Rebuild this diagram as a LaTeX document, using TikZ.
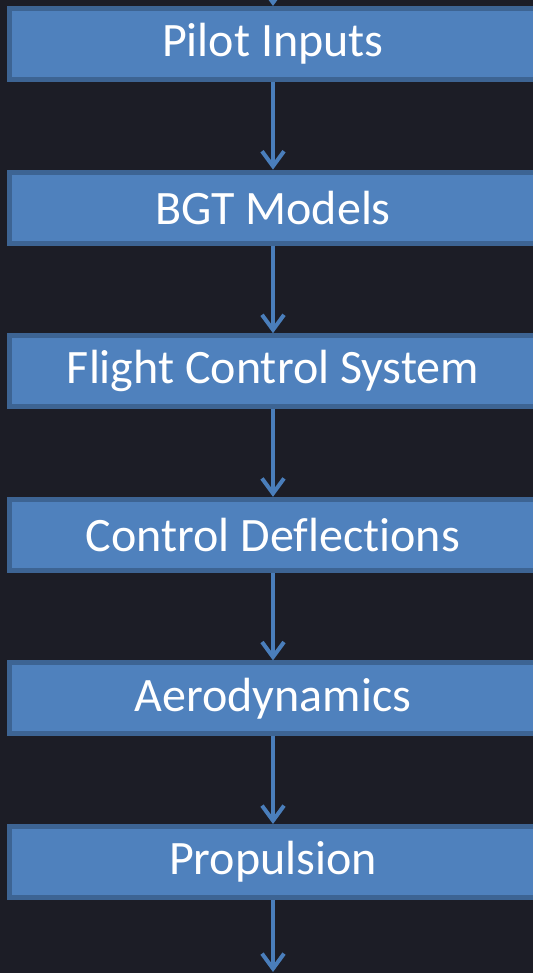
\documentclass[tikz,border=0pt]{standalone}
\usepackage{fontspec}
\setmainfont{Carlito}[Ligatures=NoCommon]
\usetikzlibrary{arrows.meta}
\definecolor{bgdark}{HTML}{1C1D26}
\definecolor{boxfill}{HTML}{4F81BD}
\definecolor{boxline}{HTML}{3D6493}
\definecolor{flowline}{HTML}{4A7EBB}
% Each box runs past the right edge of the page; its label is shifted
% back so that it stays centred on the flow line at x = 273.
\newcommand{\stagetext}[1]{\hspace*{-40pt}#1}
\tikzset{
  stage/.style={draw=boxline, line width=5pt, fill=boxfill, rectangle,
    minimum width=567pt, minimum height=71pt, inner sep=0pt,
    text=white, font=\fontsize{48}{58}\selectfont},
  flow/.style={draw=flowline, line width=4pt,
    -{Straight Barb[length=15pt, width=22pt]}}
}
\begin{document}
\begin{tikzpicture}[x=1pt, y=-1pt]
  \useasboundingbox (0,0) rectangle (532,973);
  \fill[bgdark] (-20,-20) rectangle (560,993);
  \coordinate (entry) at (273,-40);
  \coordinate (exit)  at (273,972);
  \node[stage] (pilot) at (293,44)    {\stagetext{Pilot Inputs}};
  \node[stage] (bgt)   at (293,207.6) {\stagetext{BGT Models}};
  \node[stage] (fcs)   at (293,371.2) {\stagetext{Flight Control System}};
  \node[stage] (defl)  at (293,534.8) {\stagetext{Control Deflections}};
  \node[stage] (aero)  at (293,698.4) {\stagetext{Aerodynamics}};
  \node[stage] (prop)  at (293,862)   {\stagetext{Propulsion}};
  \draw[flow] (entry) -- (pilot.north -| entry);
  \draw[flow] (pilot.south -| entry) -- (bgt.north -| entry);
  \draw[flow] (bgt.south -| entry) -- (fcs.north -| entry);
  \draw[flow] (fcs.south -| entry) -- (defl.north -| entry);
  \draw[flow] (defl.south -| entry) -- (aero.north -| entry);
  \draw[flow] (aero.south -| entry) -- (prop.north -| entry);
  \draw[flow] (prop.south -| entry) -- (exit);
\end{tikzpicture}
\end{document}
